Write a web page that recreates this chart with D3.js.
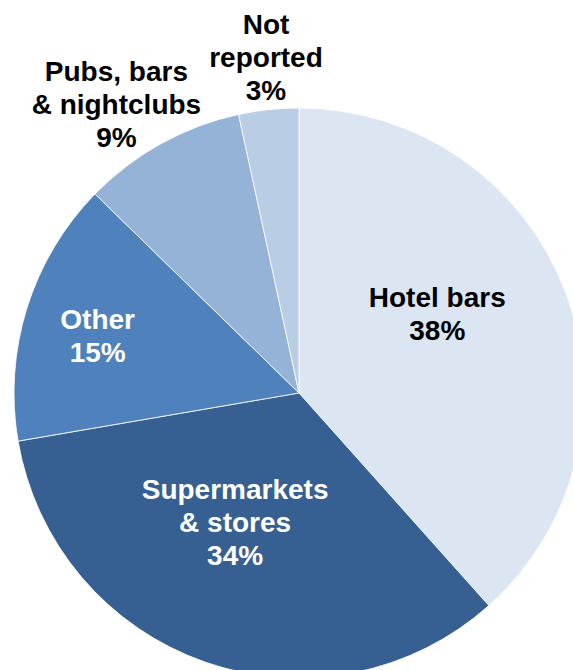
<!DOCTYPE html>
<html>
<head>
<meta charset="utf-8">
<script src="https://cdn.jsdelivr.net/npm/d3@7"></script>
<style>
  html, body { margin: 0; padding: 0; background: #fff; overflow: hidden; }
  text { font-family: "Liberation Sans", Arial, sans-serif; font-weight: bold; }
</style>
</head>
<body>
<div id="chart"></div>
<script>
// Slice data, clockwise from 12 o'clock (shares in %)
const categories = ["Hotel bars", "Supermarkets\n& stores", "Other", "Pubs, bars\n& nightclubs", "Not\nreported"];
const values = [38.4, 33.9, 15.0, 9.3, 3.4];
const colors = ["#dce6f2", "#376092", "#4f81bd", "#95b3d7", "#b9cde5"];
const textColors = ["#000", "#fff", "#fff", "#000", "#000"];

// label placement: radius from centre and angle nudge (degrees)
const labelRadius = [159, 145, 209, 341, 337];
const labelNudge = [-8.7, 6.9, -1.7, -3.4, 0.5];

function init() {
    const w = 573;
    const h = 670;
    const cx = 299, cy = 393, r = 285;
    const fontSize = 28;
    const lineH = 33;

    const svg = d3.select("#chart")
        .append("svg")
        .attr("width", w)
        .attr("height", h);

    const data = categories.map((c, i) => ({ name: c, value: values[i], color: colors[i], tc: textColors[i], i: i }));

    const pie = d3.pie()
        .sort(null)
        .value(d => d.value);

    const arc = d3.arc()
        .innerRadius(0)
        .outerRadius(r);

    const arcs = pie(data);
    const g = svg.append("g").attr("transform", `translate(${cx},${cy})`);

    g.selectAll("path")
        .data(arcs)
        .enter()
        .append("path")
        .attr("d", arc)
        .attr("fill", d => d.data.color)
        .attr("stroke", "#fff")
        .attr("stroke-width", 0.8);

    // labels
    arcs.forEach(a => {
        const i = a.data.i;
        const mid = (a.startAngle + a.endAngle) / 2 + labelNudge[i] * Math.PI / 180;
        const lx = labelRadius[i] * Math.sin(mid);
        const ly = -labelRadius[i] * Math.cos(mid);
        const lines = a.data.name.split("\n").concat([Math.round(a.data.value) + "%"]);
        const t = g.append("text")
            .attr("text-anchor", "middle")
            .attr("font-size", fontSize + "px")
            .attr("fill", a.data.tc);
        lines.forEach((ln, k) => {
            t.append("tspan")
                .attr("x", lx)
                .attr("y", ly + (k - (lines.length - 1) / 2) * lineH + 9)
                .text(ln);
        });
    });
}

window.onload = init;
</script>
</body>
</html>
